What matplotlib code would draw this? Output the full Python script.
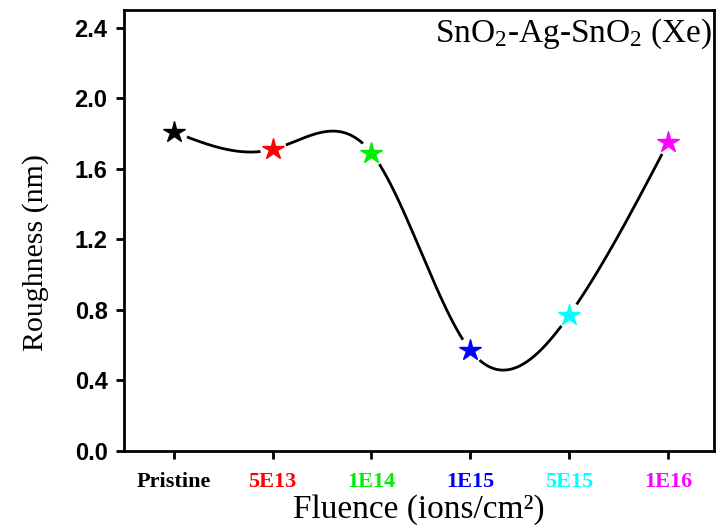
import numpy as np
import matplotlib
matplotlib.use("Agg")
from matplotlib import pyplot as plt

plt.rcParams["mathtext.fontset"] = "custom"
plt.rcParams["mathtext.rm"] = "Liberation Serif"
plt.rcParams["mathtext.it"] = "Liberation Serif:italic"

# data
labels = ["Pristine", "5E13", "1E14", "1E15", "5E15", "1E16"]
roughness = [1.81, 1.71, 1.69, 0.57, 0.77, 1.75]
colors = ["black", "red", "#00ee00", "blue", "cyan", "magenta"]


def natural_spline(x, y, xs):
    """Natural cubic spline through (x, y), evaluated at xs"""
    x = np.asarray(x, float)
    y = np.asarray(y, float)
    n = len(x)
    h = np.diff(x)
    A = np.zeros((n, n))
    b = np.zeros(n)
    A[0, 0] = A[-1, -1] = 1
    for i in range(1, n - 1):
        A[i, i - 1] = h[i - 1]
        A[i, i] = 2 * (h[i - 1] + h[i])
        A[i, i + 1] = h[i]
        b[i] = 3 * ((y[i + 1] - y[i]) / h[i] - (y[i] - y[i - 1]) / h[i - 1])
    c = np.linalg.solve(A, b)
    idx = np.clip(np.searchsorted(x, xs) - 1, 0, n - 2)
    dx = xs - x[idx]
    bb = (y[idx + 1] - y[idx]) / h[idx] - h[idx] * (2 * c[idx] + c[idx + 1]) / 3
    d = (c[idx + 1] - c[idx]) / (3 * h[idx])
    return y[idx] + bb * dx + c[idx] * dx ** 2 + d * dx ** 3


xpos = np.arange(len(labels))
xs = np.linspace(xpos[0], xpos[-1], 400)
ys = natural_spline(xpos, roughness, xs)

fig = plt.figure(figsize=(7.18, 5.31), dpi=100)
ax = fig.add_axes([0.173, 0.151, 0.821, 0.830])

ax.plot(xs, ys, color="black", lw=2.0, zorder=2)
# white discs leave the small gap around each symbol
ax.plot(xpos, roughness, "o", ms=19, mfc="white", mec="none", zorder=3)
for xi, yi, c in zip(xpos, roughness, colors):
    ax.plot(xi, yi, "*", ms=16, color=c, mec=c, zorder=4)

ax.set_xlim(-0.5, 5.46)
ax.set_ylim(0, 2.5)
ax.set_yticks(np.arange(0, 2.41, 0.4))
ax.set_yticklabels([f"{v:.1f}" for v in np.arange(0, 2.41, 0.4)],
                   family="Liberation Sans", weight="bold", fontsize=17)
ax.set_xticks(xpos)
ax.set_xticklabels(labels, family="Liberation Serif", weight="bold", fontsize=16)
for t, c in zip(ax.get_xticklabels(), colors):
    t.set_color(c)

for s in ax.spines.values():
    s.set_linewidth(2)
ax.tick_params(direction="out", length=6, width=2, pad=6)
ax.tick_params(axis="x", pad=9)

ax.set_xlabel("Fluence (ions/cm\u00b2)", family="Liberation Serif", fontsize=24, labelpad=2)
ax.set_ylabel("Roughness (nm)", family="Liberation Serif", fontsize=21.5)
ax.yaxis.set_label_coords(-0.128, 0.45)

ax.text(0.997, 0.985, "SnO$_2$-Ag-SnO$_2$ (Xe)", transform=ax.transAxes,
        ha="right", va="top", family="Liberation Serif", fontsize=24)

fig.savefig("out.png", dpi=100)
